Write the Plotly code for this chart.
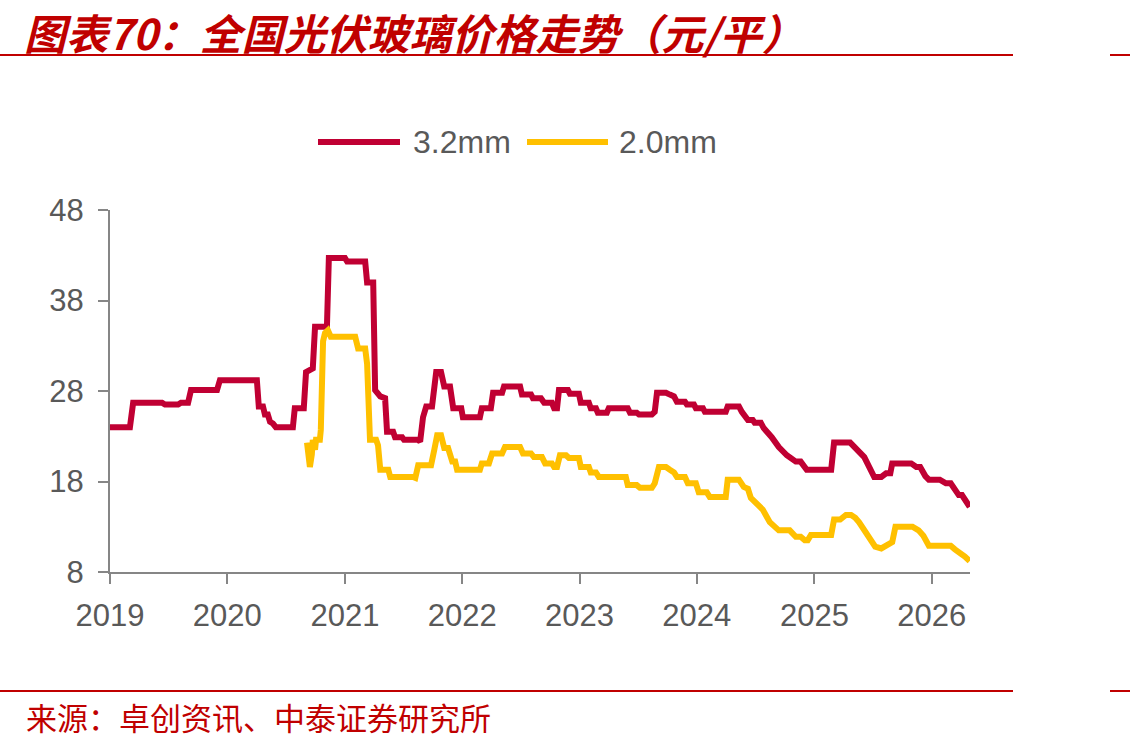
import plotly.graph_objects as go

# ---------------- data ----------------
dates_32 = [
    "2019-01-01", "2019-03-04", "2019-03-14", "2019-06-12", "2019-06-21", "2019-08-01", "2019-08-10",
    "2019-09-01", "2019-09-10", "2019-11-30", "2019-12-09", "2020-04-02", "2020-04-08", "2020-04-21",
    "2020-04-27", "2020-05-06", "2020-05-13", "2020-05-22", "2020-05-31", "2020-07-23", "2020-07-29",
    "2020-08-26", "2020-09-02", "2020-09-23", "2020-09-30", "2020-11-06", "2020-11-12", "2021-01-01",
    "2021-01-08", "2021-03-05", "2021-03-11", "2021-03-30", "2021-04-05", "2021-04-21", "2021-05-06",
    "2021-05-12", "2021-05-31", "2021-06-06", "2021-06-28", "2021-07-04", "2021-08-17", "2021-08-23",
    "2021-09-01", "2021-09-11", "2021-09-29", "2021-10-12", "2021-10-27", "2021-11-06", "2021-11-24",
    "2021-12-04", "2021-12-29", "2022-01-03", "2022-02-25", "2022-03-03", "2022-03-31", "2022-04-07",
    "2022-05-05", "2022-05-11", "2022-06-30", "2022-07-06", "2022-08-03", "2022-08-09", "2022-09-03",
    "2022-09-13", "2022-10-07", "2022-10-14", "2022-10-23", "2022-10-29", "2022-11-26", "2022-12-02",
    "2022-12-30", "2023-01-05", "2023-01-30", "2023-02-05", "2023-02-21", "2023-02-27", "2023-03-27",
    "2023-04-02", "2023-05-31", "2023-06-07", "2023-06-28", "2023-07-05", "2023-08-14", "2023-08-23",
    "2023-08-30", "2023-09-27", "2023-10-09", "2023-10-22", "2023-10-31", "2023-11-25", "2023-12-01",
    "2023-12-23", "2023-12-29", "2024-01-20", "2024-01-26", "2024-03-31", "2024-04-06", "2024-05-11",
    "2024-05-20", "2024-06-08", "2024-06-23", "2024-06-29", "2024-07-18", "2024-07-27", "2024-08-21",
    "2024-09-12", "2024-10-07", "2024-11-04", "2024-11-19", "2024-12-02", "2024-12-08", "2025-02-22",
    "2025-03-03", "2025-04-22", "2025-05-08", "2025-06-05", "2025-07-06", "2025-07-28", "2025-08-12",
    "2025-08-25", "2025-08-31", "2025-10-29", "2025-11-14", "2025-11-26", "2025-12-12", "2025-12-23",
    "2026-01-26", "2026-02-14", "2026-03-01", "2026-03-26", "2026-04-05", "2026-04-17", "2026-04-29",
]
price_32 = [
    24.0, 24.0, 26.7, 26.7, 26.5, 26.5, 26.7,
    26.7, 28.1, 28.1, 29.2, 29.2, 26.3, 26.3,
    25.4, 25.4, 24.6, 24.4, 24.0, 24.0, 26.1,
    26.1, 30.1, 30.5, 35.1, 35.1, 42.7, 42.7,
    42.3, 42.3, 40.0, 40.0, 28.1, 27.4, 27.2,
    23.5, 23.5, 22.9, 22.9, 22.6, 22.6, 22.4,
    25.1, 26.3, 26.3, 30.1, 30.1, 28.5, 28.5,
    26.1, 26.1, 25.1, 25.1, 26.1, 26.1, 27.8,
    27.8, 28.5, 28.5, 27.6, 27.6, 27.2, 27.2,
    26.7, 26.7, 26.1, 26.1, 28.1, 28.1, 27.7,
    27.7, 26.7, 26.7, 26.1, 26.1, 25.6, 25.6,
    26.1, 26.1, 25.6, 25.6, 25.4, 25.4, 25.7,
    27.8, 27.8, 27.6, 27.4, 26.8, 26.8, 26.5,
    26.5, 26.1, 26.1, 25.7, 25.7, 26.3, 26.3,
    25.7, 24.8, 24.8, 24.5, 24.5, 23.9, 22.9,
    21.8, 20.9, 20.2, 20.2, 19.5, 19.3, 19.3,
    22.3, 22.3, 21.7, 20.7, 18.5, 18.5, 18.9,
    18.9, 20.0, 20.0, 19.6, 19.6, 18.6, 18.2,
    18.2, 17.8, 17.8, 16.5, 16.5, 15.7, 15.2,
]

dates_20 = [
    "2020-09-05", "2020-09-11", "2020-09-14", "2020-09-20", "2020-09-23", "2020-09-30", "2020-10-03",
    "2020-10-15", "2020-10-18", "2020-10-25", "2020-10-31", "2020-11-09", "2020-11-18", "2021-02-02",
    "2021-02-11", "2021-03-05", "2021-03-11", "2021-03-20", "2021-04-08", "2021-04-14", "2021-04-21",
    "2021-05-16", "2021-05-22", "2021-08-01", "2021-08-08", "2021-08-17", "2021-09-26", "2021-10-06",
    "2021-10-15", "2021-10-27", "2021-11-06", "2021-11-18", "2021-12-01", "2021-12-10", "2021-12-16",
    "2022-02-25", "2022-03-03", "2022-03-25", "2022-04-04", "2022-05-05", "2022-05-14", "2022-06-30",
    "2022-07-09", "2022-08-03", "2022-08-12", "2022-09-06", "2022-09-16", "2022-10-07", "2022-10-14",
    "2022-10-23", "2022-11-01", "2022-11-20", "2022-11-29", "2022-12-30", "2023-01-05", "2023-01-30",
    "2023-02-05", "2023-02-21", "2023-03-02", "2023-05-25", "2023-05-31", "2023-06-28", "2023-07-08",
    "2023-08-14", "2023-08-23", "2023-09-05", "2023-09-27", "2023-10-09", "2023-10-22", "2023-10-31",
    "2023-11-25", "2023-12-04", "2023-12-29", "2024-01-07", "2024-02-01", "2024-02-10", "2024-03-31",
    "2024-04-06", "2024-05-11", "2024-05-26", "2024-06-08", "2024-06-17", "2024-07-06", "2024-07-24",
    "2024-08-15", "2024-08-31", "2024-09-12", "2024-10-16", "2024-11-04", "2024-11-19", "2024-12-02",
    "2024-12-11", "2024-12-21", "2025-02-22", "2025-03-03", "2025-03-22", "2025-04-09", "2025-04-25",
    "2025-05-08", "2025-05-20", "2025-06-17", "2025-07-09", "2025-07-28", "2025-08-19", "2025-08-31",
    "2025-09-10", "2025-11-02", "2025-11-21", "2025-12-06", "2025-12-23", "2026-03-01", "2026-03-14",
    "2026-03-29", "2026-04-14", "2026-04-29",
]
price_20 = [
    22.3, 20.5, 19.6, 21.0, 22.6, 21.5, 22.6,
    22.6, 23.7, 33.5, 34.4, 34.7, 34.0, 34.0,
    32.7, 32.7, 31.0, 22.6, 22.6, 22.0, 19.3,
    19.3, 18.5, 18.5, 18.4, 19.8, 19.8, 21.5,
    23.1, 23.1, 21.7, 21.7, 20.2, 20.2, 19.3,
    19.3, 20.0, 20.0, 21.1, 21.1, 21.8, 21.8,
    21.1, 21.1, 20.7, 20.7, 20.0, 20.0, 19.6,
    19.6, 20.9, 20.9, 20.6, 20.6, 19.6, 19.6,
    19.0, 19.0, 18.5, 18.5, 17.6, 17.6, 17.3,
    17.3, 17.8, 19.6, 19.6, 19.3, 19.0, 18.5,
    18.5, 17.8, 17.8, 16.8, 16.8, 16.3, 16.3,
    18.2, 18.2, 17.4, 17.2, 16.2, 15.5, 14.9,
    13.5, 13.0, 12.6, 12.6, 11.9, 11.9, 11.5,
    11.5, 12.1, 12.1, 13.8, 13.8, 14.3, 14.3,
    14.0, 13.5, 11.9, 10.8, 10.6, 11.0, 11.3,
    13.0, 13.0, 12.6, 12.0, 10.9, 10.9, 10.5,
    10.2, 9.7, 9.2,
]

series_names = ["3.2mm", "2.0mm"]
series_colors = ["#C00033", "#FFC000"]
y_ticks = [8, 18, 28, 38, 48]
title_text = "图表70：全国光伏玻璃价格走势（元/平）"
source_text = "来源：卓创资讯、中泰证券研究所"

# ---------------- figure ----------------
W, H = 1130, 746
ML, MR, MT, MB = 110, 160, 210, 174
PW, PH = W - ML - MR, H - MT - MB

def px(xp):
    return (xp - ML) / PW

def py(yp):
    return (H - MB - yp) / PH

RED = "#C00000"
GRAY = "#595959"
AXIS = "#868686"
NUMFONT = "Liberation Sans, Arial, sans-serif"
CJK = "Noto Sans CJK SC"

fig = go.Figure()
fig.add_trace(go.Scatter(x=dates_32, y=price_32, mode="lines", name=series_names[0],
                         line=dict(color=series_colors[0], width=6), showlegend=False))
fig.add_trace(go.Scatter(x=dates_20, y=price_20, mode="lines", name=series_names[1],
                         line=dict(color=series_colors[1], width=6), showlegend=False))

fig.update_layout(
    width=W, height=H,
    margin=dict(l=ML, r=MR, t=MT, b=MB),
    paper_bgcolor="white", plot_bgcolor="white",
    showlegend=False,
)
fig.update_xaxes(
    type="date", range=["2019-01-01", "2026-04-30"],
    dtick="M12", tick0="2019-01-01", tickformat="%Y",
    showgrid=False, zeroline=False,
    showline=True, linecolor=AXIS, linewidth=2,
    ticks="outside", ticklen=10, tickwidth=2, tickcolor=AXIS,
    tickfont=dict(family=NUMFONT, size=31, color=GRAY),
    ticklabelstandoff=5,
)
fig.update_yaxes(
    range=[8, 48], tickvals=y_ticks, ticktext=[str(v) for v in y_ticks],
    showgrid=False, zeroline=False,
    showline=True, linecolor=AXIS, linewidth=2,
    ticks="outside", ticklen=10, tickwidth=2, tickcolor=AXIS,
    tickfont=dict(family=NUMFONT, size=31, color=GRAY),
    ticklabelstandoff=8,
)

# manual legend (line samples + labels)
legend_items = [(318, 400, 411), (527, 608, 617)]
for (x0, x1, xt), name, col in zip(legend_items, series_names, series_colors):
    fig.add_shape(type="line", xref="paper", yref="paper",
                  x0=px(x0), x1=px(x1), y0=py(142), y1=py(142),
                  line=dict(color=col, width=6))
    fig.add_annotation(xref="paper", yref="paper", x=px(xt), y=py(142),
                       xanchor="left", yanchor="middle", text=name, showarrow=False,
                       font=dict(family=NUMFONT, size=32, color=GRAY))

# title, header/footer rules, source
fig.add_annotation(xref="paper", yref="paper", x=px(22), y=py(31),
                   xanchor="left", yanchor="middle", text=title_text, showarrow=False,
                   font=dict(family=CJK, size=42, color=RED, weight="bold", style="italic"))
for yy in (55, 691):
    fig.add_shape(type="line", xref="paper", yref="paper",
                  x0=px(0), x1=px(1013), y0=py(yy), y1=py(yy),
                  line=dict(color=RED, width=2))
    fig.add_shape(type="line", xref="paper", yref="paper",
                  x0=px(1110), x1=px(1130), y0=py(yy), y1=py(yy),
                  line=dict(color=RED, width=2))
fig.add_annotation(xref="paper", yref="paper", x=px(24), y=py(716),
                   xanchor="left", yanchor="middle", text=source_text, showarrow=False,
                   font=dict(family=CJK, size=31, color=RED))

fig.write_html("out.html")
